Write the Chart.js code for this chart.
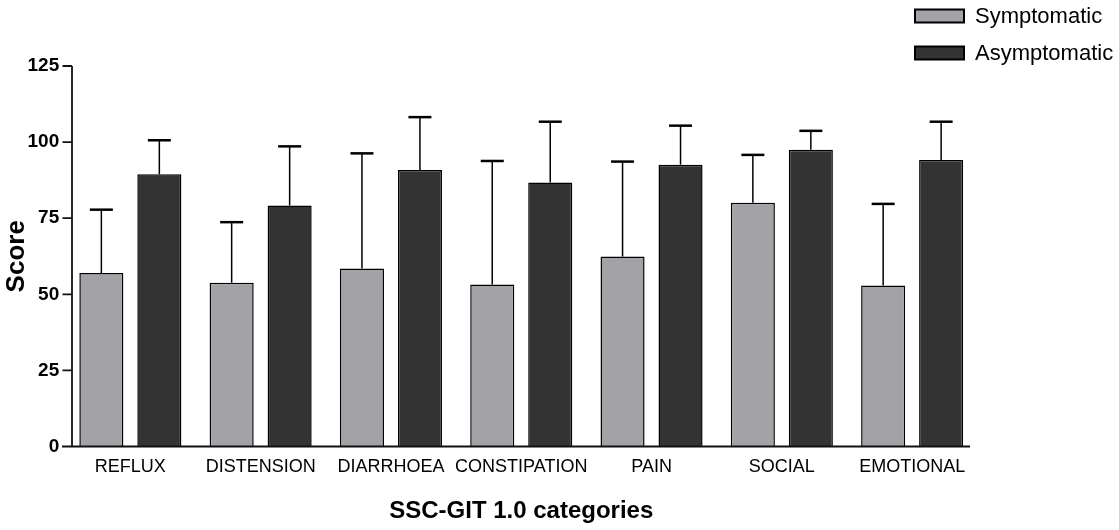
<!DOCTYPE html>
<html>
<head>
<meta charset="utf-8">
<script src="https://cdn.jsdelivr.net/npm/chart.js@4.4.1/dist/chart.umd.min.js"></script>
<style>
  body { margin: 0; background: #fff; }
</style>
</head>
<body>
<canvas id="score-chart" width="1119" height="530"></canvas>
<script>
const categories = ["REFLUX", "DISTENSION", "DIARRHOEA", "CONSTIPATION", "PAIN", "SOCIAL", "EMOTIONAL"];
const symptomatic = [57.0, 53.8, 58.5, 53.2, 62.4, 80.1, 52.9];
const symptomaticSD = [20.8, 19.9, 37.8, 40.6, 31.2, 15.7, 26.8];
const asymptomatic = [89.4, 79.2, 90.8, 86.7, 92.6, 97.5, 94.1];
const asymptomaticSD = [11.2, 19.4, 17.4, 20.0, 12.8, 6.2, 12.6];
const yTicks = [0, 25, 50, 75, 100, 125];

const fontFamily = '"Liberation Sans", Arial, sans-serif';
const errors = [symptomaticSD, asymptomaticSD];

// one-sided error bars (mean + SD) on top of each bar
const errorBars = {
  id: 'errorBars',
  afterDatasetsDraw(chart) {
    const ctx = chart.ctx;
    const y = chart.scales.y;
    ctx.save();
    ctx.strokeStyle = '#000';
    chart.data.datasets.forEach((ds, i) => {
      chart.getDatasetMeta(i).data.forEach((bar, j) => {
        const top = y.getPixelForValue(ds.data[j] + errors[i][j]);
        ctx.lineWidth = 1.5;
        ctx.beginPath();
        ctx.moveTo(bar.x, bar.y);
        ctx.lineTo(bar.x, top);
        ctx.stroke();
        ctx.lineWidth = 2.5;
        ctx.beginPath();
        ctx.moveTo(bar.x - 11.5, top);
        ctx.lineTo(bar.x + 11.5, top);
        ctx.stroke();
      });
    });
    ctx.restore();
  }
};

// prism-style axes: y axis line a little inside the category band
const axesLines = {
  id: 'axesLines',
  afterDraw(chart) {
    const ctx = chart.ctx;
    const y = chart.scales.y;
    const axisX = 72;
    const base = y.getPixelForValue(0);
    ctx.save();
    ctx.strokeStyle = '#111';
    ctx.lineWidth = 1.8;
    ctx.beginPath();
    ctx.moveTo(axisX, y.getPixelForValue(125));
    ctx.lineTo(axisX, base);
    ctx.moveTo(62, base);
    ctx.lineTo(970, base);
    yTicks.forEach(v => {
      const py = y.getPixelForValue(v);
      ctx.moveTo(62.5, py);
      ctx.lineTo(axisX, py);
    });
    ctx.stroke();
    ctx.restore();
  }
};

const sideLegend = {
  id: 'sideLegend',
  afterDraw(chart) {
    const ctx = chart.ctx;
    const rows = [16, 53];
    ctx.save();
    ctx.font = '22px ' + fontFamily;
    ctx.textBaseline = 'middle';
    chart.data.datasets.forEach((ds, i) => {
      const cy = rows[i];
      ctx.fillStyle = ds.backgroundColor;
      ctx.fillRect(915, cy - 6.5, 49, 13);
      ctx.strokeStyle = '#000';
      ctx.lineWidth = 2;
      ctx.strokeRect(915, cy - 6.5, 49, 13);
      ctx.fillStyle = '#000';
      ctx.fillText(ds.label, 975, cy + 1);
    });
    ctx.restore();
  }
};

const scoreCanvas = document.getElementById('score-chart');

let scoreData = {
  labels: categories,
  datasets: [{
    label: 'Symptomatic',
    data: symptomatic,
    backgroundColor: '#a3a2a7',
    borderColor: '#000',
    borderWidth: 1.5,
    categoryPercentage: 0.89,
    barPercentage: 0.76
  }, {
    label: 'Asymptomatic',
    data: asymptomatic,
    backgroundColor: '#333333',
    borderColor: '#000',
    borderWidth: 1.5,
    categoryPercentage: 0.89,
    barPercentage: 0.76
  }]
};

let scoreOptions = {
  responsive: false,
  animation: false,
  layout: { padding: { top: 66, right: 141.7, left: 0, bottom: 0 } },
  scales: {
    x: {
      offset: true,
      grid: { display: false, drawTicks: false },
      border: { display: false },
      ticks: {
        color: '#000',
        padding: 10,
        autoSkip: false,
        maxRotation: 0,
        minRotation: 0,
        font: { family: fontFamily, size: 18 }
      },
      title: {
        display: true,
        text: 'SSC-GIT 1.0 categories',
        color: '#000',
        padding: { top: 0, bottom: 4 },
        font: { family: fontFamily, size: 24, weight: 'bold' }
      },
      afterFit(scale) { scale.height = 83.5; }
    },
    y: {
      min: 0,
      max: 125,
      grid: { display: false, drawTicks: false },
      border: { display: false },
      ticks: {
        stepSize: 25,
        color: '#000',
        padding: 6,
        font: { family: fontFamily, size: 19, weight: 'bold' }
      },
      title: {
        display: true,
        text: 'Score',
        color: '#000',
        padding: { top: 1, bottom: 0 },
        font: { family: fontFamily, size: 26, weight: 'bold' }
      },
      afterFit(scale) { scale.width = 65.2; }
    }
  },
  plugins: {
    legend: { display: false },
    tooltip: { enabled: false }
  }
};

let scoreChart = new Chart(scoreCanvas, {
  type: 'bar',
  data: scoreData,
  options: scoreOptions,
  plugins: [errorBars, axesLines, sideLegend]
});
</script>
</body>
</html>
